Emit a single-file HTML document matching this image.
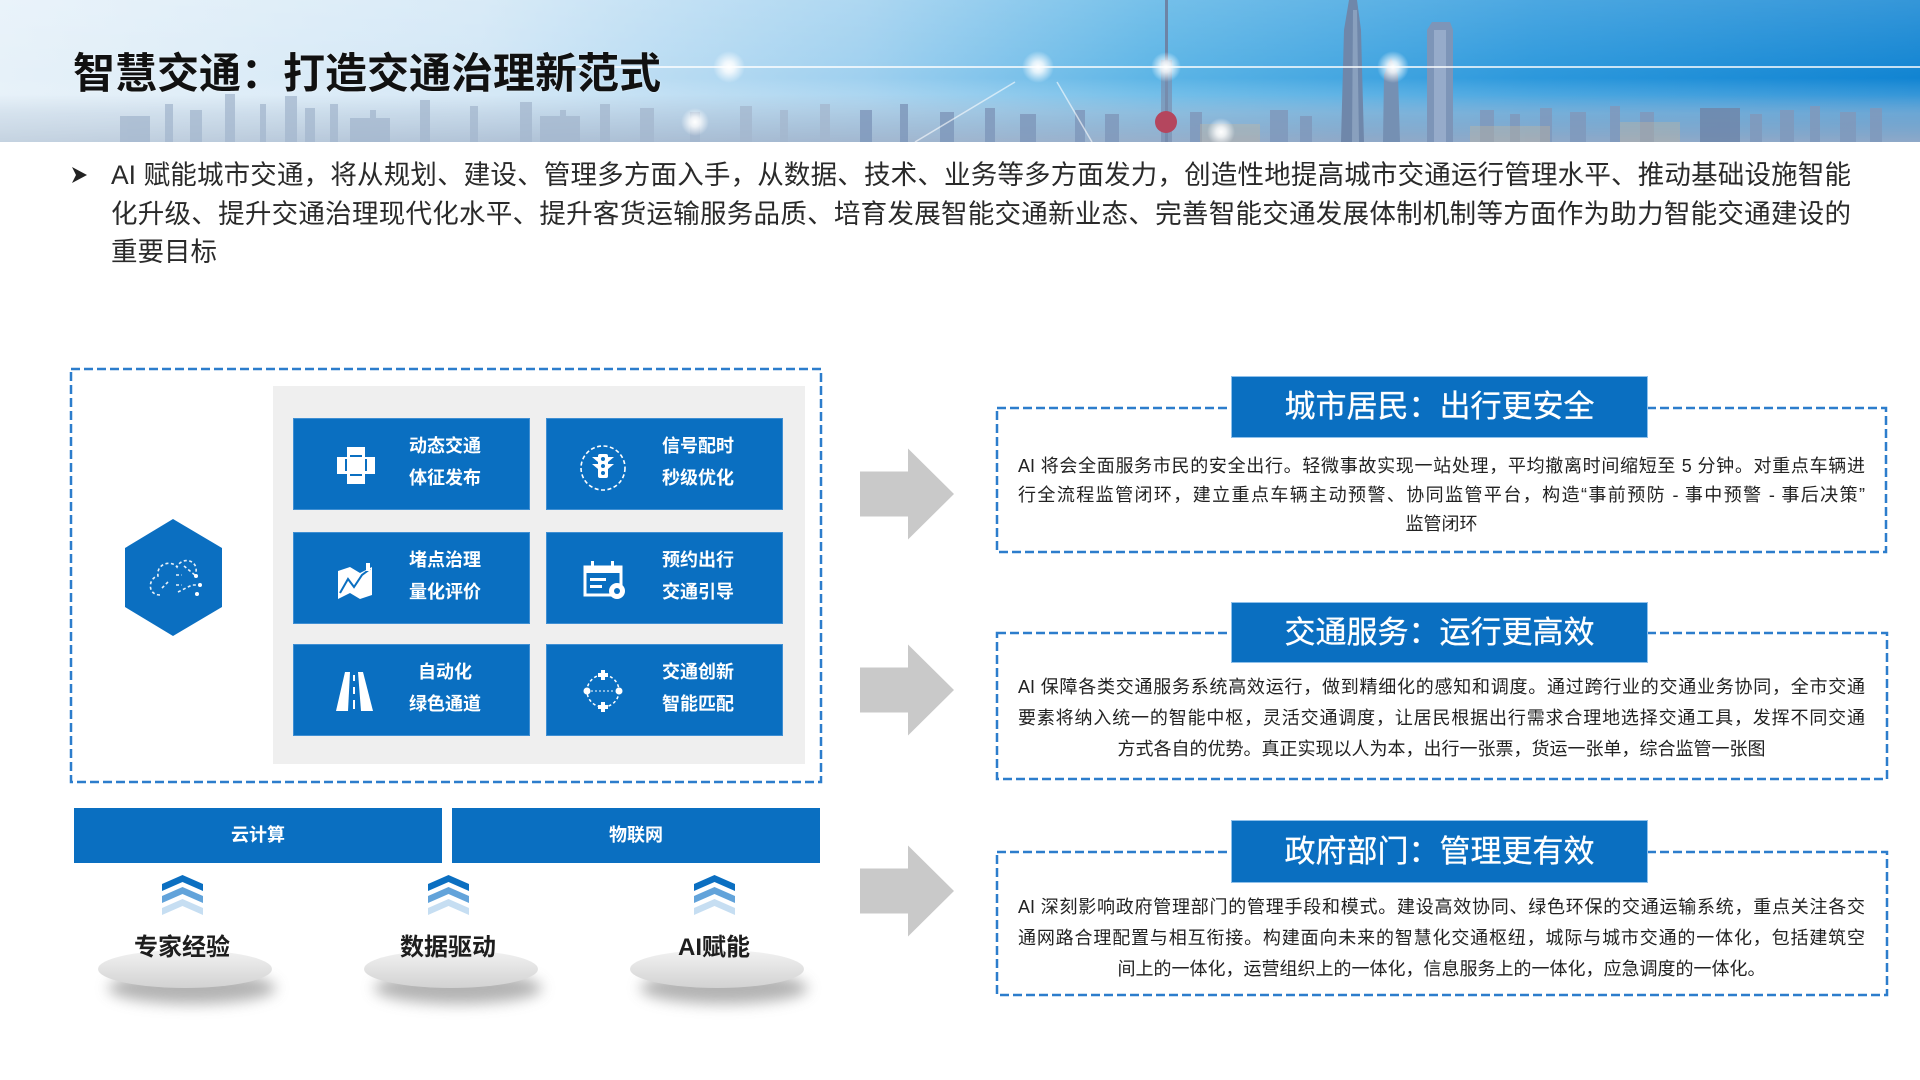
<!DOCTYPE html>
<html lang="zh-CN"><head><meta charset="utf-8">
<style>
*{margin:0;padding:0;box-sizing:border-box}
html,body{width:1920px;height:1080px}
body{position:relative;background:#fff;overflow:hidden;font-family:"Liberation Sans","Noto Sans CJK SC",sans-serif;}
.a{position:absolute}
.title{left:73px;top:46px;font-size:42px;font-weight:bold;color:#111;line-height:56px;white-space:nowrap;text-shadow:0 0 2px rgba(255,255,255,.6)}
.body{left:111px;top:156px;width:1740px;font-size:26.5px;color:#2a2a2a;line-height:38.5px}
.j{text-align:justify;text-align-last:justify}
.l{text-align:left;text-align-last:left}
.tile{position:absolute;width:237px;height:92px;background:#0a6fc1;border:1px solid #3f8fd3}
.tile .t{position:absolute;left:108px;width:86px;top:11px;font-size:18px;font-weight:bold;color:#fff;line-height:32px;text-align:center;white-space:nowrap}
.tile svg{position:absolute;left:0;top:0}
.bar{position:absolute;top:808px;height:55px;background:#0a6fc1;color:#fff;font-size:18px;font-weight:bold;line-height:55px;text-align:center}
.lab{position:absolute;top:932px;width:160px;font-size:24px;font-weight:bold;color:#1e1e1e;text-align:center;line-height:32px}
.tab{position:absolute;left:1231px;width:417px;background:#0a6fc1;border:1px solid #8fc0ea;color:#fff;font-size:31px;text-align:center;white-space:nowrap;-webkit-text-stroke:0.3px #fff}
.txt{position:absolute;left:1018px;width:847px;font-size:18px;color:#222}
.txt .c{text-align:center;text-align-last:center}
</style></head>
<body>

<!-- header -->
<svg class="a" style="left:0;top:0" width="1920" height="142" viewBox="0 0 1920 142">
<defs>
<linearGradient id="hg" x1="0" x2="1" y1="0" y2="0">
<stop offset="0" stop-color="#e6f1f9"/>
<stop offset="0.25" stop-color="#d2e7f6"/>
<stop offset="0.45" stop-color="#9fd0ef"/>
<stop offset="0.6" stop-color="#5db5e6"/>
<stop offset="0.8" stop-color="#2c98dc"/>
<stop offset="1" stop-color="#1184d2"/>
</linearGradient>
<linearGradient id="hv" x1="0" y1="0" x2="0" y2="1">
<stop offset="0" stop-color="#ffffff" stop-opacity="0.15"/>
<stop offset="0.55" stop-color="#ffffff" stop-opacity="0"/>
<stop offset="0.8" stop-color="#d5e4f1" stop-opacity="0.35"/>
<stop offset="1" stop-color="#d5e4f1" stop-opacity="0.2"/>
</linearGradient>
<linearGradient id="city" x1="0" x2="1" y1="0" y2="0">
<stop offset="0" stop-color="#c4d2e0"/>
<stop offset="0.4" stop-color="#a6bad1"/>
<stop offset="0.7" stop-color="#91a9c7"/>
<stop offset="1" stop-color="#8fa9c8"/>
</linearGradient>
<linearGradient id="cityv" x1="0" y1="0" x2="0" y2="1">
<stop offset="0" stop-color="#fff" stop-opacity="0"/>
<stop offset="1" stop-color="#fff" stop-opacity="1"/>
</linearGradient>
<mask id="cm"><rect x="0" y="95" width="1920" height="47" fill="url(#cityv)"/></mask>
<radialGradient id="glow">
<stop offset="0" stop-color="#ffffff" stop-opacity="1"/>
<stop offset="0.35" stop-color="#ffffff" stop-opacity="0.8"/>
<stop offset="1" stop-color="#ffffff" stop-opacity="0"/>
</radialGradient>
</defs>
<rect width="1920" height="142" fill="url(#hg)"/>
<rect width="1920" height="142" fill="url(#hv)"/>
<!-- skyline -->
<rect x="0" y="95" width="1920" height="47" fill="url(#city)" mask="url(#cm)"/>
<g fill="#a4b7ce" opacity="0.75">
<rect x="165" y="104" width="8" height="38"/><rect x="190" y="110" width="12" height="32"/>
<rect x="225" y="94" width="10" height="48"/><rect x="260" y="104" width="6" height="38"/>
<rect x="285" y="96" width="12" height="46"/><rect x="305" y="108" width="10" height="34"/>
<rect x="330" y="104" width="8" height="38"/><rect x="370" y="110" width="6" height="32"/>
<rect x="420" y="100" width="10" height="42"/><rect x="470" y="106" width="8" height="36"/>
<rect x="520" y="102" width="12" height="40"/><rect x="560" y="110" width="6" height="32"/>
<rect x="600" y="104" width="10" height="38"/><rect x="640" y="108" width="14" height="34"/>
<rect x="690" y="112" width="10" height="30"/><rect x="740" y="106" width="12" height="36"/>
<rect x="780" y="110" width="8" height="32"/><rect x="820" y="104" width="10" height="38"/>
<rect x="120" y="116" width="30" height="26"/><rect x="350" y="118" width="40" height="24"/>
<rect x="540" y="116" width="40" height="26"/>
</g>
<g fill="#8099bc" opacity="0.85">
<rect x="860" y="110" width="12" height="32"/><rect x="900" y="104" width="8" height="38"/>
<rect x="940" y="112" width="14" height="30"/><rect x="985" y="108" width="10" height="34"/>
<rect x="1020" y="114" width="16" height="28"/><rect x="1075" y="110" width="10" height="32"/>
<rect x="1105" y="114" width="14" height="28"/><rect x="1190" y="112" width="12" height="30"/>
<rect x="1270" y="110" width="18" height="32"/><rect x="1300" y="116" width="12" height="26"/>
<rect x="1480" y="110" width="14" height="32"/><rect x="1510" y="114" width="10" height="28"/>
<rect x="1540" y="108" width="12" height="34"/><rect x="1570" y="112" width="16" height="30"/>
<rect x="1610" y="106" width="10" height="36"/><rect x="1640" y="112" width="14" height="30"/>
<rect x="1700" y="108" width="40" height="34" fill="#6f87ab"/><rect x="1750" y="114" width="12" height="28"/>
<rect x="1780" y="110" width="14" height="32"/><rect x="1810" y="106" width="10" height="36"/>
<rect x="1840" y="112" width="16" height="30"/><rect x="1870" y="108" width="12" height="34"/>
</g>
<g fill="#c9b79a" opacity="0.35">
<rect x="1200" y="124" width="60" height="18"/><rect x="1470" y="126" width="80" height="16"/><rect x="1620" y="122" width="60" height="20"/>
</g>
<!-- towers -->
<polygon points="1341,142 1344,30 1349,0 1357,0 1361,30 1364,142" fill="#6f87aa"/>
<polygon points="1352,142 1353,10 1357,10 1359,142" fill="#9bb0cc" opacity="0.6"/>
<polygon points="1383,142 1384,75 1391,58 1398,75 1400,142" fill="#7590b3"/>
<polygon points="1427,142 1427,30 1432,22 1450,22 1453,30 1453,142" fill="#7d95b8"/>
<rect x="1434" y="30" width="12" height="112" fill="#a7bbd5" opacity="0.6"/>
<rect x="1165" y="0" width="3" height="142" fill="#6d84a6"/>
<rect x="1161" y="60" width="11" height="82" fill="#7b90b0" opacity="0.7"/>
<circle cx="1166" cy="122" r="11" fill="#b4465e"/>
<!-- light lines -->
<line x1="560" y1="67" x2="1920" y2="67" stroke="#ffffff" stroke-width="2" opacity="0.75"/>
<line x1="1015" y1="82" x2="915" y2="142" stroke="#ffffff" stroke-width="1.5" opacity="0.6"/>
<line x1="1057" y1="82" x2="1092" y2="142" stroke="#ffffff" stroke-width="1.5" opacity="0.6"/>
<g fill="url(#glow)">
<circle cx="729" cy="67" r="16"/><circle cx="1038" cy="67" r="16"/><circle cx="1166" cy="67" r="15"/>
<circle cx="1393" cy="67" r="16"/><circle cx="695" cy="122" r="14"/><circle cx="1221" cy="132" r="14"/>
</g>
</svg>
<div class="a title">智慧交通：打造交通治理新范式</div>

<!-- bullet -->
<svg class="a" style="left:70px;top:165px" width="20" height="20" viewBox="0 0 20 20">
<polygon points="2,2 17,10 2,18 6,10" fill="#222"/>
</svg>
<div class="a body">
<div class="j">AI 赋能城市交通，将从规划、建设、管理多方面入手，从数据、技术、业务等多方面发力，创造性地提高城市交通运行管理水平、推动基础设施智能</div>
<div class="j">化升级、提升交通治理现代化水平、提升客货运输服务品质、培育发展智能交通新业态、完善智能交通发展体制机制等方面作为助力智能交通建设的</div>
<div class="l">重要目标</div>
</div>

<!-- shapes -->
<svg class="a" style="left:0;top:0" width="1920" height="1080" viewBox="0 0 1920 1080">
<defs>
<linearGradient id="el" x1="0" y1="0" x2="0" y2="1">
<stop offset="0" stop-color="#f2f2f2"/>
<stop offset="1" stop-color="#d2d2d2"/>
</linearGradient>
<filter id="bl" x="-30%" y="-80%" width="160%" height="260%"><feGaussianBlur stdDeviation="7"/></filter>
</defs>
<rect x="71" y="369" width="750" height="413" fill="none" stroke="#2c7dcc" stroke-width="2.5" stroke-dasharray="9 4"/>
<rect x="273" y="386" width="532" height="378" fill="#efefef"/>
<polygon points="173,519 222,548 222,607 173,636 125,607 125,548" fill="#0b6fc1"/>
<g fill="none" stroke="#ffffff" stroke-width="1.6" stroke-dasharray="3 2.5" opacity="0.9">
<path d="M160,595 C147,595 148,578 158,576 C156,563 172,560 177,567 C182,556 198,560 196,572"/>
<path d="M162,588 L168,582 M176,575 L182,575 M176,585 L182,585 M178,592 L192,585 L200,585 M184,566 L196,576"/>
</g>
<g fill="#fff"><circle cx="200" cy="585" r="2"/><circle cx="196" cy="576" r="2"/><circle cx="197" cy="594" r="2"/></g>

<!-- arrows -->
<g fill="#c9c9c9">
<polygon points="860,471.5 908,471.5 908,448.5 954,494 908,539.5 908,516.5 860,516.5"/>
<polygon points="860,667.5 908,667.5 908,644.5 954,690 908,735.5 908,712.5 860,712.5"/>
<polygon points="860,868.5 908,868.5 908,845.5 954,891 908,936.5 908,913.5 860,913.5"/>
</g>

<!-- right dashed boxes -->
<g fill="none" stroke="#2c7dcc" stroke-width="2.5" stroke-dasharray="9 4">
<rect x="997" y="408" width="889" height="144"/>
<rect x="997" y="633" width="890" height="146"/>
<rect x="997" y="852" width="890" height="143"/>
</g>

<!-- chevrons -->
<g id="chev">
<polygon points="162,884 182.5,875 203,884 203,891 182.5,882 162,891" fill="#0b6fc1"/>
<polygon points="162,896 182.5,887 203,896 203,903 182.5,894 162,903" fill="#62a3da"/>
<polygon points="162,908 182.5,899 203,908 203,915 182.5,906 162,915" fill="#c6def2"/>
</g>
<use href="#chev" x="266"/>
<use href="#chev" x="532"/>

<!-- ellipses -->
<g filter="url(#bl)" fill="#9a9a9a" opacity="0.75">
<ellipse cx="192" cy="988" rx="84" ry="16"/>
<ellipse cx="458" cy="988" rx="84" ry="16"/>
<ellipse cx="724" cy="988" rx="84" ry="16"/>
</g>
<g fill="url(#el)">
<ellipse cx="185" cy="969" rx="87" ry="19"/>
<ellipse cx="451" cy="969" rx="87" ry="19"/>
<ellipse cx="717" cy="969" rx="87" ry="19"/>
</g>
</svg>

<!-- tiles -->
<div class="tile" style="left:293px;top:418px">
<svg width="120" height="92" viewBox="0 0 120 92">
<g fill="#fff"><rect x="53" y="28" width="18" height="37"/><rect x="43" y="38" width="38" height="17"/></g>
<g fill="#0a6fc1"><rect x="56" y="36" width="12" height="2"/><rect x="56" y="55" width="12" height="2"/><rect x="51" y="40" width="2" height="12"/><rect x="71" y="40" width="2" height="12"/></g>
</svg>
<div class="t">动态交通<br>体征发布</div></div>
<div class="tile" style="left:546px;top:418px">
<svg width="120" height="92" viewBox="0 0 120 92">
<circle cx="56" cy="49" r="22" fill="none" stroke="#fff" stroke-width="1.6" stroke-dasharray="4 2.5"/>
<rect x="51" y="35" width="10" height="24" rx="2" fill="#fff"/>
<polygon points="51,38 45,38 51,43" fill="#fff"/><polygon points="61,38 67,38 61,43" fill="#fff"/>
<polygon points="51,45 45,45 51,50" fill="#fff"/><polygon points="61,45 67,45 61,50" fill="#fff"/>
<g fill="#0a6fc1"><circle cx="56" cy="40" r="2"/><circle cx="56" cy="47" r="2"/><circle cx="56" cy="54" r="2"/></g>
</svg>
<div class="t">信号配时<br>秒级优化</div></div>
<div class="tile" style="left:293px;top:532px">
<svg width="120" height="92" viewBox="0 0 120 92">
<polygon points="44,38 56,34 66,40 78,34 78,62 66,66 56,60 44,66" fill="#fff"/>
<polyline points="46,60 54,46 60,54 68,42 76,36" fill="none" stroke="#0a6fc1" stroke-width="2"/>
<rect x="72" y="30" width="4" height="8" fill="#fff"/>
</svg>
<div class="t">堵点治理<br>量化评价</div></div>
<div class="tile" style="left:546px;top:532px">
<svg width="120" height="92" viewBox="0 0 120 92">
<rect x="38" y="34" width="36" height="28" fill="none" stroke="#fff" stroke-width="3"/>
<rect x="38" y="34" width="36" height="6" fill="#fff"/>
<rect x="44" y="28" width="3" height="8" fill="#fff"/><rect x="64" y="28" width="3" height="8" fill="#fff"/>
<rect x="43" y="45" width="16" height="3" fill="#fff"/><rect x="43" y="52" width="12" height="3" fill="#fff"/>
<circle cx="70" cy="58" r="8" fill="#fff"/><circle cx="70" cy="58" r="3" fill="#0a6fc1"/>
</svg>
<div class="t">预约出行<br>交通引导</div></div>
<div class="tile" style="left:293px;top:644px">
<svg width="120" height="92" viewBox="0 0 120 92">
<polygon points="51,27 56,27 54,66 42,66" fill="#fff"/>
<polygon points="64,27 69,27 79,66 67,66" fill="#fff"/>
<g fill="#fff"><rect x="59" y="30" width="2" height="6"/><rect x="59" y="42" width="2" height="7"/><rect x="59" y="55" width="2" height="9"/></g>
</svg>
<div class="t">自动化<br>绿色通道</div></div>
<div class="tile" style="left:546px;top:644px">
<svg width="120" height="92" viewBox="0 0 120 92">
<circle cx="56" cy="46" r="16" fill="none" stroke="#fff" stroke-width="1.5" stroke-dasharray="3 2.5"/>
<g fill="#fff"><rect x="54" y="25" width="4" height="10"/><rect x="51" y="28" width="10" height="4"/>
<rect x="54" y="57" width="4" height="10"/><rect x="51" y="60" width="10" height="4"/>
<circle cx="40" cy="46" r="3.5"/><circle cx="72" cy="46" r="3.5"/></g>
<line x1="44" y1="46" x2="68" y2="46" stroke="#fff" stroke-width="1" stroke-dasharray="2 2"/>
</svg>
<div class="t">交通创新<br>智能匹配</div></div>

<!-- bars -->
<div class="bar" style="left:74px;width:368px">云计算</div>
<div class="bar" style="left:452px;width:368px">物联网</div>

<div class="lab" style="left:102px">专家经验</div>
<div class="lab" style="left:368px">数据驱动</div>
<div class="lab" style="left:634px">AI赋能</div>

<!-- right tabs -->
<div class="tab" style="top:376px;height:62px;line-height:60px">城市居民：出行更安全</div>
<div class="tab" style="top:602px;height:61px;line-height:59px">交通服务：运行更高效</div>
<div class="tab" style="top:820px;height:63px;line-height:61px">政府部门：管理更有效</div>

<div class="txt" style="top:452px;line-height:29px">
<div class="j">AI 将会全面服务市民的安全出行。轻微事故实现一站处理，平均撤离时间缩短至 5 分钟。对重点车辆进</div>
<div class="j">行全流程监管闭环，建立重点车辆主动预警、协同监管平台，构造“事前预防 - 事中预警 - 事后决策”</div>
<div class="c">监管闭环</div>
</div>
<div class="txt" style="top:672px;line-height:31px">
<div class="j">AI 保障各类交通服务系统高效运行，做到精细化的感知和调度。通过跨行业的交通业务协同，全市交通</div>
<div class="j">要素将纳入统一的智能中枢，灵活交通调度，让居民根据出行需求合理地选择交通工具，发挥不同交通</div>
<div class="c">方式各自的优势。真正实现以人为本，出行一张票，货运一张单，综合监管一张图</div>
</div>
<div class="txt" style="top:892px;line-height:31px">
<div class="j">AI 深刻影响政府管理部门的管理手段和模式。建设高效协同、绿色环保的交通运输系统，重点关注各交</div>
<div class="j">通网路合理配置与相互衔接。构建面向未来的智慧化交通枢纽，城际与城市交通的一体化，包括建筑空</div>
<div class="c">间上的一体化，运营组织上的一体化，信息服务上的一体化，应急调度的一体化。</div>
</div>

</body></html>
